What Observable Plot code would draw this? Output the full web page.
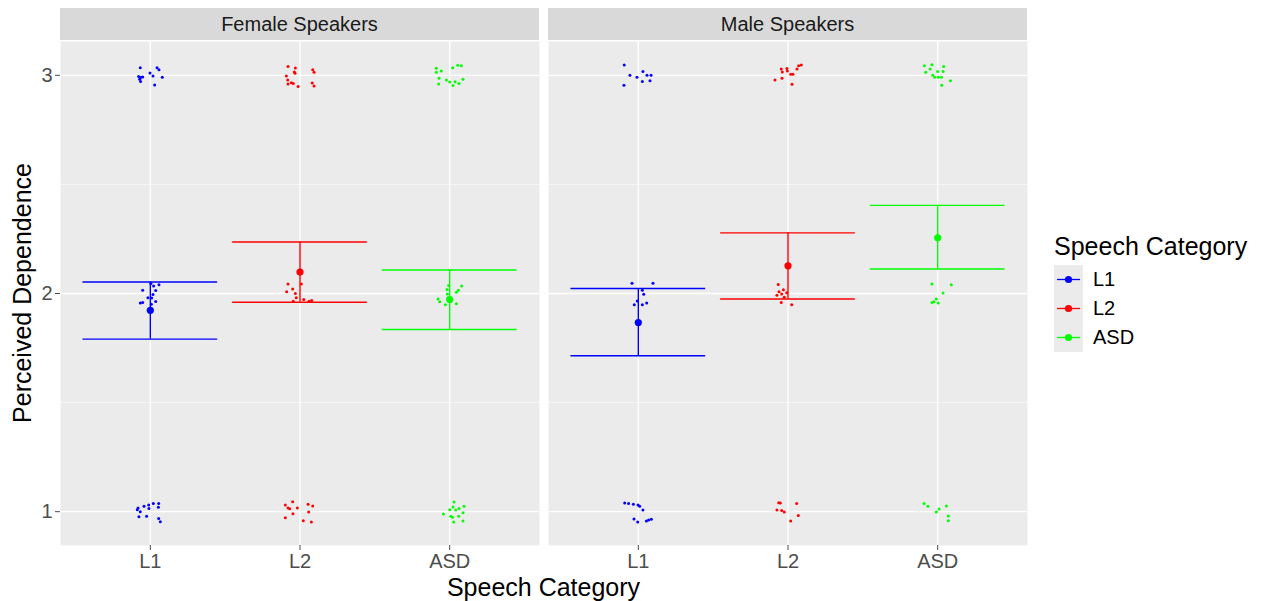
<!DOCTYPE html>
<html>
<head>
<meta charset="utf-8">
<script src="https://cdn.jsdelivr.net/npm/d3@7"></script>
<script src="https://cdn.jsdelivr.net/npm/@observablehq/plot@0.6"></script>
<style>
  html, body { margin: 0; padding: 0; background: #fff; }
  #wrap { position: relative; width: 1262px; height: 601px; font-family: "Liberation Sans", Arial, sans-serif; overflow: hidden; }
  #wrap svg.plot { position: absolute; left: 0; top: 0; }
  .strip { position: absolute; background: #d9d9d9; color: #1a1a1a; font-size: 20px; text-align: center; display: flex; align-items: center; justify-content: center; }
  .title { position: absolute; color: #000; font-size: 25px; white-space: nowrap; }
  .legtxt { position: absolute; color: #000; font-size: 20px; white-space: nowrap; }
</style>
</head>
<body>
<div id="wrap"></div>
<script>
// ---------- data ----------
const categories = ["L1", "L2", "ASD"];
const speakers = ["Female Speakers", "Male Speakers"];
const colors = ["#0000ff", "#ff0000", "#00ff00"];

// model estimates (mean, lower, upper) per category
const meanFemale = [1.923, 2.098, 1.972];
const lowFemale  = [1.791, 1.960, 1.835];
const highFemale = [2.053, 2.236, 2.108];
const meanMale   = [1.867, 2.127, 2.255];
const lowMale    = [1.715, 1.975, 2.112];
const highMale   = [2.023, 2.278, 2.404];

// jittered raw responses: [horizontal jitter (category units), jittered response]
const femaleL1 = [
  [-0.067,3.035],[-0.078,2.995],[-0.062,2.991],[-0.051,2.992],[-0.071,2.982],[-0.065,2.972],[-0.002,3.011],[0.018,2.997],[0.045,3.035],[0.058,3.025],[0.080,2.991],[0.029,2.956],
  [0.004,2.046],[0.022,2.034],[0.058,2.040],[-0.051,2.015],[0.036,2.014],[0.018,1.995],[-0.016,1.980],[0.009,1.979],[-0.067,1.957],[-0.051,1.959],[0.007,1.951],[0.036,1.963],
  [-0.082,1.017],[-0.087,1.009],[-0.067,1.000],[-0.042,1.025],[-0.011,1.031],[-0.009,1.015],[0.020,1.038],[0.056,1.038],[0.054,1.020],[-0.076,0.977],[-0.025,0.979],[0.056,0.969],[0.067,0.954]
];
const femaleL2 = [
  [-0.080,3.040],[-0.031,3.034],[-0.038,3.015],[-0.033,3.009],[0.085,3.025],[0.094,3.014],[-0.091,2.997],[-0.082,2.979],[-0.080,2.960],[-0.058,2.966],[-0.045,2.963],[-0.013,2.949],[0.082,2.965],[0.094,2.951],
  [-0.080,2.043],[-0.049,2.021],[0.009,2.044],[-0.089,2.008],[-0.031,2.000],[-0.025,1.980],[-0.045,1.965],[0.025,1.972],[0.060,1.965],[0.078,1.968],
  [-0.098,1.031],[-0.080,1.017],[-0.069,1.014],[-0.049,1.046],[-0.018,1.017],[0.054,1.034],[0.085,1.026],[0.058,0.998],[-0.047,0.991],[-0.098,0.972],[0.022,0.959],[0.076,0.953]
];
const femaleASD = [
  [-0.089,3.032],[-0.089,3.014],[-0.056,3.020],[0.020,3.035],[0.054,3.046],[0.078,3.044],[-0.071,2.986],[-0.074,2.960],[-0.022,2.979],[0.000,2.969],[0.022,2.953],[0.036,2.971],[0.062,2.962],[0.089,2.982],
  [-0.007,2.037],[-0.018,2.018],[0.080,2.034],[0.058,2.015],[0.045,2.006],[-0.016,1.998],[-0.078,1.975],[-0.067,1.962],[-0.029,1.949],[0.045,1.953],[-0.011,1.980],
  [0.029,1.044],[0.022,1.021],[0.000,1.009],[0.062,1.015],[0.096,1.025],[0.089,0.995],[-0.042,0.989],[0.007,0.979],[0.018,0.975],[0.060,0.979],[0.089,0.957],[0.027,0.953],[0.040,1.008]
];
const maleL1 = [
  [-0.094,3.047],[-0.056,3.000],[-0.009,2.991],[0.031,3.017],[0.058,3.000],[0.085,3.000],[0.027,2.972],[0.078,2.975],[-0.096,2.954],
  [-0.042,2.047],[0.098,2.047],[0.027,2.015],[0.036,1.997],[-0.007,1.966],[-0.027,1.949],[0.027,1.949],[0.056,1.957],
  [-0.091,1.040],[-0.065,1.038],[-0.033,1.034],[-0.002,1.031],[0.009,1.025],[0.031,1.008],[-0.029,0.966],[-0.004,0.953],[0.054,0.957],[0.069,0.962],[0.087,0.965]
];
const maleL2 = [
  [-0.087,2.979],[-0.040,2.986],[-0.045,3.029],[-0.038,3.015],[-0.007,3.031],[-0.004,3.020],[0.018,3.005],[0.033,3.005],[0.060,3.029],[0.071,3.044],[0.089,3.047],[0.027,2.959],
  [-0.065,2.041],[-0.060,2.008],[-0.031,2.017],[-0.074,1.992],[-0.042,1.998],[-0.025,1.983],[-0.009,2.003],[-0.045,1.959],[0.025,1.949],
  [-0.062,1.041],[-0.051,1.040],[0.058,1.038],[-0.074,1.008],[-0.042,1.005],[-0.025,0.998],[0.069,0.982],[0.018,0.957]
];
const maleASD = [
  [-0.089,3.044],[-0.038,3.049],[-0.051,3.029],[0.040,3.040],[-0.080,3.014],[0.000,3.018],[0.036,3.017],[-0.033,3.000],[-0.020,2.991],[0.004,2.991],[0.025,2.991],[0.085,2.975],[0.027,2.954],
  [-0.038,2.043],[0.091,2.040],[0.036,2.002],[-0.009,1.975],[-0.038,1.959],[-0.025,1.962],[0.004,1.956],
  [-0.091,1.038],[-0.065,1.025],[0.058,1.026],[0.009,1.012],[-0.009,0.998],[0.071,0.980],[0.071,0.959]
];

const yTicks = [1, 2, 3];
const yMinor = [1.5, 2.5];

// ---------- build tables ----------
const rawGroups = [
  [speakers[0], 0, femaleL1], [speakers[0], 1, femaleL2], [speakers[0], 2, femaleASD],
  [speakers[1], 0, maleL1],   [speakers[1], 1, maleL2],   [speakers[1], 2, maleASD]
];
const jitter = [];
for (const [sp, ci, pts] of rawGroups) {
  for (const [dx, y] of pts) jitter.push({speaker: sp, category: categories[ci], x: ci + 1 + dx, y});
}
const summary = [];
categories.forEach((c, i) => {
  summary.push({speaker: speakers[0], category: c, x: i + 1, mean: meanFemale[i], low: lowFemale[i], high: highFemale[i]});
  summary.push({speaker: speakers[1], category: c, x: i + 1, mean: meanMale[i], low: lowMale[i], high: highMale[i]});
});

const capHalf = 0.45;
const W = 1040, H = 601;

const chart = Plot.plot({
  width: W,
  height: H,
  marginLeft: 60,
  marginRight: 13,
  marginTop: 41,
  marginBottom: 56,
  style: {fontFamily: "'Liberation Sans', Arial, sans-serif", fontSize: "20px", background: "transparent"},
  fx: {domain: speakers, paddingInner: 9 / 488, paddingOuter: 0, round: false, axis: null, label: null},
  x: {domain: [0.4, 3.6], axis: null},
  y: {domain: [0.845, 3.155], axis: null},
  color: {domain: categories, range: colors},
  marks: [
    Plot.frame({fill: "#ebebeb", stroke: null}),
    Plot.gridY(yMinor, {stroke: "#ffffff", strokeOpacity: 1, strokeWidth: 0.6}),
    Plot.gridY(yTicks, {stroke: "#ffffff", strokeOpacity: 1, strokeWidth: 1.3}),
    Plot.gridX([1, 2, 3], {stroke: "#ffffff", strokeOpacity: 1, strokeWidth: 1.3}),
    Plot.dot(jitter, {fx: "speaker", x: "x", y: "y", fill: "category", r: 1.5, stroke: null}),
    Plot.ruleX(summary, {fx: "speaker", x: "x", y1: "low", y2: "high", stroke: "category", strokeWidth: 1.4}),
    Plot.ruleY(summary, {fx: "speaker", y: "low", x1: d => d.x - capHalf, x2: d => d.x + capHalf, stroke: "category", strokeWidth: 1.4}),
    Plot.ruleY(summary, {fx: "speaker", y: "high", x1: d => d.x - capHalf, x2: d => d.x + capHalf, stroke: "category", strokeWidth: 1.4}),
    Plot.dot(summary, {fx: "speaker", x: "x", y: "mean", fill: "category", r: 3.6, stroke: null}),
    Plot.axisX({ticks: [1, 2, 3], tickFormat: v => categories[v - 1], tickSize: 5, tickPadding: 3, label: null, color: "#4d4d4d"}),
    Plot.axisY({ticks: yTicks, tickFormat: d3.format("d"), tickSize: 5, tickPadding: 3, label: null, color: "#4d4d4d"})
  ]
});
chart.classList.add("plot");

const wrap = document.getElementById("wrap");
wrap.appendChild(chart);

// facet strips positioned from the fx scale (fx range already includes the left margin)
const fx = chart.scale("fx");
const strips = [];
speakers.forEach(sp => {
  const left = fx.apply(sp);
  const w = fx.bandwidth;
  strips.push([left, w]);
  const s = document.createElement("div");
  s.className = "strip";
  s.style.left = left + "px";
  s.style.width = w + "px";
  s.style.top = "8px";
  s.style.height = "32px";
  s.textContent = sp;
  wrap.appendChild(s);
});

// axis titles
const panelsLeft = strips[0][0];
const panelsRight = strips[1][0] + strips[1][1];
const xt = document.createElement("div");
xt.className = "title";
xt.textContent = "Speech Category";
xt.style.left = ((panelsLeft + panelsRight) / 2) + "px";
xt.style.top = "573px";
xt.style.transform = "translateX(-50%)";
wrap.appendChild(xt);

const yt = document.createElement("div");
yt.className = "title";
yt.textContent = "Perceived Dependence";
yt.style.left = "22px";
yt.style.top = "293px";
yt.style.transform = "translate(-50%, -50%) rotate(-90deg)";
wrap.appendChild(yt);

// legend
const lg = document.createElement("div");
lg.className = "title";
lg.textContent = "Speech Category";
lg.style.left = "1054px";
lg.style.top = "232px";
wrap.appendChild(lg);

const keyTop = 265, keyH = 29, keyW = 29, keyLeft = 1054;
const ksvg = d3.select(wrap).append("svg")
  .style("position", "absolute").style("left", keyLeft + "px").style("top", keyTop + "px")
  .attr("width", keyW).attr("height", keyH * categories.length);
ksvg.append("rect").attr("width", keyW).attr("height", keyH * categories.length).attr("fill", "#ebebeb");
categories.forEach((c, i) => {
  const cy = i * keyH + keyH / 2;
  ksvg.append("line").attr("x1", 3).attr("x2", keyW - 3).attr("y1", cy).attr("y2", cy)
    .attr("stroke", colors[i]).attr("stroke-width", 1.3);
  ksvg.append("circle").attr("cx", keyW / 2).attr("cy", cy).attr("r", 3.6).attr("fill", colors[i]);
  const t = document.createElement("div");
  t.className = "legtxt";
  t.textContent = c;
  t.style.left = "1093px";
  t.style.top = (keyTop + cy - 12) + "px";
  wrap.appendChild(t);
});
</script>
</body>
</html>
